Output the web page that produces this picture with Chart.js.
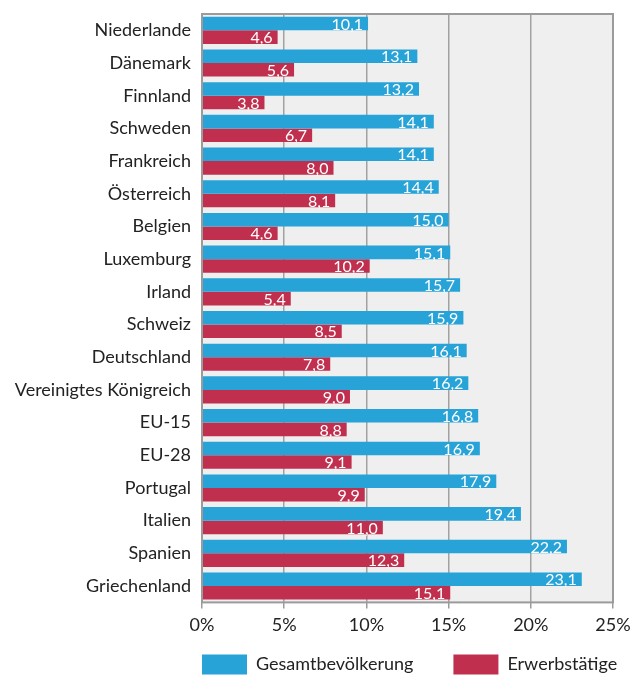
<!DOCTYPE html>
<html lang="de">
<head>
    <meta charset="UTF-8">
    <title>Armutsgefährdung</title>
    <script src="https://cdnjs.cloudflare.com/ajax/libs/chart.js/4.4.1/chart.umd.min.js"></script>
    <style>
        html, body {
            margin: 0;
            padding: 0;
            background: #fff;
            overflow: hidden;
        }

        .canvas-container {
            position: relative;
            width: 639px;
            height: 675px;
        }
    </style>
</head>
<body>
    <div class="canvas-container">
        <canvas id="povertyChart"></canvas>
    </div>

    <script>
        const countries = ['Niederlande', 'Dänemark', 'Finnland', 'Schweden', 'Frankreich', 'Österreich',
            'Belgien', 'Luxemburg', 'Irland', 'Schweiz', 'Deutschland', 'Vereinigtes Königreich',
            'EU-15', 'EU-28', 'Portugal', 'Italien', 'Spanien', 'Griechenland'];
        const gesamt = [10.1, 13.1, 13.2, 14.1, 14.1, 14.4, 15.0, 15.1, 15.7, 15.9, 16.1, 16.2, 16.8, 16.9, 17.9, 19.4, 22.2, 23.1];
        const erwerb = [4.6, 5.6, 3.8, 6.7, 8.0, 8.1, 4.6, 10.2, 5.4, 8.5, 7.8, 9.0, 8.8, 9.1, 9.9, 11.0, 12.3, 15.1];
        const xTicks = [0, 5, 10, 15, 20, 25];

        const fontFamily = 'Lato, sans-serif';
        const legendGap = 40;

        // grey plot background and frame
        const plotFrame = {
            id: 'plotFrame',
            beforeDraw(chart) {
                const a = chart.chartArea;
                const ctx = chart.ctx;
                ctx.save();
                ctx.fillStyle = '#efefef';
                ctx.fillRect(a.left, a.top, a.right - a.left, a.bottom - a.top);
                ctx.restore();
            },
            afterDatasetsDraw(chart) {
                const a = chart.chartArea;
                const ctx = chart.ctx;
                ctx.save();
                ctx.strokeStyle = '#9b9b9b';
                ctx.lineWidth = 2;
                ctx.strokeRect(a.left, a.top, a.right - a.left, a.bottom - a.top);
                ctx.restore();
            }
        };

        // value labels inside the bar ends, German decimal comma
        const barValues = {
            id: 'barValues',
            afterDatasetsDraw(chart) {
                const ctx = chart.ctx;
                ctx.save();
                ctx.font = '16px ' + fontFamily;
                ctx.fillStyle = '#ffffff';
                ctx.textAlign = 'right';
                ctx.textBaseline = 'middle';
                chart.data.datasets.forEach((ds, i) => {
                    chart.getDatasetMeta(i).data.forEach((bar, j) => {
                        const txt = ds.data[j].toFixed(1).replace('.', ',');
                        ctx.fillText(txt, bar.x - 5, bar.y + 1);
                    });
                });
                ctx.restore();
            }
        };

        // line the legend up with the plot's left edge, just under the axis labels
        const legendShift = {
            id: 'legendShift',
            afterLayout(chart) {
                const lg = chart.legend;
                const dx = chart.chartArea.left - legendGap - lg.left;
                lg.left += dx;
                lg.right += dx;
                lg.top = chart.chartArea.bottom + 52 - legendGap;
                lg.bottom = lg.top + legendGap + 30;
                lg.height = lg.bottom - lg.top;
            }
        };

        const ctx = document.getElementById('povertyChart').getContext('2d');
        new Chart(ctx, {
            type: 'bar',
            data: {
                labels: countries,
                datasets: [{
                    label: 'Gesamtbevölkerung',
                    data: gesamt,
                    backgroundColor: '#27a3d7',
                    borderWidth: 0,
                    categoryPercentage: 0.83,
                    barPercentage: 1.0
                }, {
                    label: 'Erwerbstätige',
                    data: erwerb,
                    backgroundColor: '#c12f4f',
                    borderWidth: 0,
                    categoryPercentage: 0.83,
                    barPercentage: 1.0
                }]
            },
            options: {
                indexAxis: 'y',
                responsive: true,
                maintainAspectRatio: false,
                animation: false,
                layout: {
                    padding: { top: 14, right: 26, bottom: 0, left: 0 }
                },
                plugins: {
                    legend: {
                        position: 'bottom',
                        align: 'start',
                        maxHeight: 33,
                        labels: {
                            boxWidth: 45,
                            boxHeight: 20,
                            padding: legendGap,
                            color: '#222',
                            font: { family: fontFamily, size: 18 }
                        }
                    },
                    tooltip: { enabled: false }
                },
                scales: {
                    x: {
                        min: 0,
                        max: 25,
                        afterBuildTicks(scale) {
                            scale.ticks = xTicks.map(v => ({ value: v }));
                        },
                        border: { display: false },
                        grid: {
                            color: '#a2a2a2',
                            lineWidth: 1.5,
                            drawTicks: true,
                            tickLength: 6,
                            tickColor: '#9b9b9b'
                        },
                        ticks: {
                            color: '#222',
                            padding: 6,
                            maxRotation: 0,
                            font: { family: fontFamily, size: 18 },
                            callback: v => v + '%'
                        }
                    },
                    y: {
                        afterFit(scale) {
                            scale.width = 202;
                            scale.paddingTop = 0;
                            scale.paddingBottom = 0;
                        },
                        border: { display: false },
                        grid: { display: false },
                        ticks: {
                            color: '#222',
                            padding: 3,
                            autoSkip: false,
                            font: { family: fontFamily, size: 18 }
                        }
                    }
                }
            },
            plugins: [plotFrame, barValues, legendShift]
        });
    </script>
</body>
</html>
